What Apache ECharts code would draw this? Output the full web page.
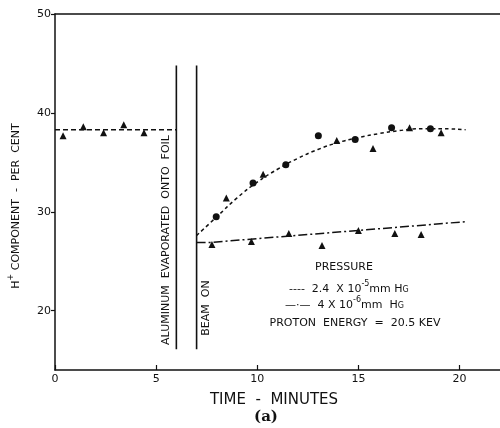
<!DOCTYPE html>
<html><head><meta charset="utf-8">
<script src="https://cdn.jsdelivr.net/npm/echarts@6/dist/echarts.min.js"></script>
<style>html,body{margin:0;padding:0;background:#fff}#c{width:500px;height:428px}</style>
</head><body><div id="c"></div>
<script>
// ---- data ----
const xTicks = [0, 5, 10, 15, 20];
const yTicks = [20, 30, 40, 50];
// points before the foil evaporation (triangles)
const preX = [0.4, 1.4, 2.4, 3.4, 4.4];
const preY = [37.7, 38.6, 38.0, 38.8, 38.0];
const preLevel = [[0, 38.3], [6, 38.3]];
// 2.4e-5 mm Hg curve: circles and triangles
const hiCircX = [7.97, 9.79, 11.41, 13.02, 14.84, 16.64, 18.56];
const hiCircY = [29.5, 32.9, 34.75, 37.7, 37.3, 38.5, 38.4];
const hiTriX = [8.47, 10.29, 13.93, 15.72, 17.53, 19.09];
const hiTriY = [31.4, 33.8, 37.2, 36.4, 38.5, 38.0];
const hiCurveX = [7.0, 8.0, 9.0, 10.0, 11.0, 12.0, 13.0, 14.0, 15.0, 16.0, 17.0, 18.0, 19.0, 20.3];
const hiCurveY = [27.6, 29.5, 31.4, 33.0, 34.3, 35.4, 36.3, 37.0, 37.5, 37.9, 38.2, 38.4, 38.4, 38.3];
// 4e-6 mm Hg: triangles and dash-dot line
const loTriX = [7.76, 9.71, 11.56, 13.2, 15.0, 16.8, 18.1];
const loTriY = [26.7, 27.0, 27.8, 26.6, 28.1, 27.8, 27.7];
const loLineX = [7.0, 7.7, 20.3];
const loLineY = [26.9, 26.9, 29.0];
// event markers
const foilX = 6, beamX = 7;
const markerYRange = [16.1, 44.8];

const zip = (a, b) => a.map((v, i) => [v, b[i]]);
const FONT = 'DejaVu Sans';
const SUP = {fontSize: 8, fontFamily: FONT, verticalAlign: 'bottom', padding: [0, 0, 7, 0]};
const SM = {fontSize: 8, fontFamily: FONT, verticalAlign: 'bottom', padding: [0, 0, 1, 0]};
const N = {fontSize: 11, fontFamily: FONT, verticalAlign: 'bottom'};

const chart = echarts.init(document.getElementById('c'), null, {renderer: 'canvas'});
chart.setOption({
  animation: false,
  backgroundColor: '#fff',
  grid: {left: 55, right: 0, top: 14, bottom: 58},
  xAxis: [{
    type: 'value', min: 0, max: 22, interval: 5,
    axisLine: {lineStyle: {color: '#111', width: 1.5}},
    axisTick: {inside: true, length: 5, lineStyle: {color: '#111', width: 1.2}, customValues: xTicks},
    axisLabel: {color: '#111', fontFamily: FONT, fontSize: 11, margin: 4, customValues: xTicks},
    splitLine: {show: false}
  }, {
    type: 'value', position: 'top', min: 0, max: 22,
    axisLine: {show: true, lineStyle: {color: '#111', width: 1.5}},
    axisTick: {show: false}, axisLabel: {show: false}, splitLine: {show: false}
  }],
  yAxis: {
    type: 'value', min: 14, max: 50,
    axisLine: {show: true, lineStyle: {color: '#111', width: 1.5}},
    axisTick: {show: true, length: 4, lineStyle: {color: '#111', width: 1.2}, customValues: yTicks},
    axisLabel: {color: '#111', fontFamily: FONT, fontSize: 11, margin: 4, customValues: yTicks},
    splitLine: {show: false}
  },
  series: [
    {type: 'line', data: preLevel, symbol: 'none', lineStyle: {color: '#111', width: 1.5, type: [5, 3]}},
    {type: 'line', data: [[foilX, markerYRange[0]], [foilX, markerYRange[1]]], symbol: 'none', lineStyle: {color: '#111', width: 1.6}},
    {type: 'line', data: [[beamX, markerYRange[0]], [beamX, markerYRange[1]]], symbol: 'none', lineStyle: {color: '#111', width: 1.6}},
    {type: 'line', data: zip(hiCurveX, hiCurveY), smooth: true, symbol: 'none', lineStyle: {color: '#111', width: 1.5, type: [3.5, 3]}},
    {type: 'line', data: zip(loLineX, loLineY), symbol: 'none', lineStyle: {color: '#111', width: 1.5, type: [9, 3, 2, 3]}},
    {type: 'scatter', data: zip(preX, preY), symbol: 'triangle', symbolSize: 7, itemStyle: {color: '#111', opacity: 1}},
    {type: 'scatter', data: zip(hiTriX, hiTriY), symbol: 'triangle', symbolSize: 7, itemStyle: {color: '#111', opacity: 1}},
    {type: 'scatter', data: zip(loTriX, loTriY), symbol: 'triangle', symbolSize: 7, itemStyle: {color: '#111', opacity: 1}},
    {type: 'scatter', data: zip(hiCircX, hiCircY), symbol: 'circle', symbolSize: 7, itemStyle: {color: '#111', opacity: 1}}
  ],
  graphic: [
    {type: 'text', x: 14, y: 206, rotation: Math.PI / 2,
     style: {text: '{n|H}{sup|+}{n| COMPONENT  -  PER  CENT}', fill: '#111', font: '11px "DejaVu Sans"', align: 'center', verticalAlign: 'middle',
       rich: {n: N, sup: SUP}}},
    {type: 'text', x: 166, y: 240, rotation: Math.PI / 2,
     style: {text: 'ALUMINUM  EVAPORATED  ONTO  FOIL', fill: '#111', font: '11px "DejaVu Sans"', align: 'center', verticalAlign: 'middle'}},
    {type: 'text', x: 206, y: 308, rotation: Math.PI / 2,
     style: {text: 'BEAM  ON', fill: '#111', font: '11px "DejaVu Sans"', align: 'center', verticalAlign: 'middle'}},
    {type: 'text', x: 344, y: 267,
     style: {text: 'PRESSURE', fill: '#111', font: '11px "DejaVu Sans"', align: 'center', verticalAlign: 'middle'}},
    {type: 'text', x: 289, y: 287,
     style: {text: '{n|----  2.4  X 10}{sup|-5}{n|mm H}{sm|G}', fill: '#111', align: 'left', verticalAlign: 'middle',
       rich: {n: N, sup: SUP, sm: SM}}},
    {type: 'text', x: 285, y: 303,
     style: {text: '{n|—·—  4 X 10}{sup|-6}{n|mm  H}{sm|G}', fill: '#111', align: 'left', verticalAlign: 'middle',
       rich: {n: N, sup: SUP, sm: SM}}},
    {type: 'text', x: 355, y: 323,
     style: {text: 'PROTON  ENERGY  =  20.5 KEV', fill: '#111', font: '11px "DejaVu Sans"', align: 'center', verticalAlign: 'middle'}},
    {type: 'text', x: 274, y: 400,
     style: {text: 'TIME  -  MINUTES', fill: '#111', font: '15px "DejaVu Sans"', align: 'center', verticalAlign: 'middle'}},
    {type: 'text', x: 266, y: 417,
     style: {text: '(a)', fill: '#111', font: 'bold 15px "DejaVu Serif"', align: 'center', verticalAlign: 'middle'}}
  ]
});
</script></body></html>
